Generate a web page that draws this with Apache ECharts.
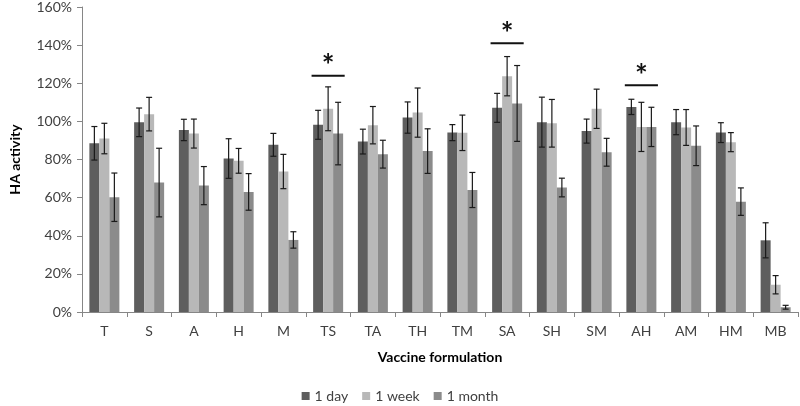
<!DOCTYPE html>
<html>
<head>
<meta charset="utf-8">
<script src="https://cdn.jsdelivr.net/npm/echarts@6/dist/echarts.min.js"></script>
<style>html,body{margin:0;padding:0;background:#fff}#c{width:800px;height:406px}</style>
</head>
<body>
<div id="c"></div>
<script>
const categories = ['T','S','A','H','M','TS','TA','TH','TM','SA','SH','SM','AH','AM','HM','MB'];
const seriesNames = ['1 day','1 week','1 month'];
const day1 = [88.5, 99.5, 95.5, 80.5, 87.7, 98.2, 89.4, 102, 94.1, 107.1, 99.6, 94.9, 107.6, 99.6, 94.1, 37.6];
const week1 = [91, 103.8, 93.6, 79.3, 73.7, 106.6, 98, 104.6, 94, 123.7, 99, 106.6, 97.1, 96.8, 89.1, 14.3];
const month1 = [60.2, 67.9, 66.3, 63, 37.8, 93.6, 82.8, 84.4, 64, 109.4, 65.3, 83.8, 97.1, 87.2, 57.9, 2.5];
const day1Err = [8.8, 7.5, 5.6, 10.4, 6, 7.6, 6.5, 8.2, 4.2, 7.6, 13.1, 6.3, 4, 6.6, 5.2, 9.2];
const week1Err = [8, 8.8, 7.6, 6.5, 9, 11.5, 9.8, 12.9, 9.3, 10.3, 12.5, 10.3, 12.9, 9.4, 5, 4.8];
const month1Err = [12.7, 18, 10, 9.6, 4.3, 16.4, 7.3, 11.7, 9.2, 19.9, 4.9, 7.3, 10.3, 10.4, 7.2, 1];
const sigCats = ['TS','SA','AH'];
const sigLevels = [124, 141, 119];
const yTicks = [0, 20, 40, 60, 80, 100, 120, 140, 160];

const colors = ['#5e5e5e', '#b8b8b8', '#8b8b8b'];
const FONT = 'Lato';
const BAR_W = 10;
const means = [day1, week1, month1];
const errs = [day1Err, week1Err, month1Err];

const chart = echarts.init(document.getElementById('c'), null, {renderer: 'canvas'});

const series = [];
means.forEach((m, k) => {
  series.push({
    name: seriesNames[k], type: 'bar', data: m, barWidth: BAR_W, barGap: '0%',
    itemStyle: {color: colors[k]}, z: 2
  });
});
means.forEach((m, k) => {
  const offset = (k - 1) * BAR_W;
  series.push({
    type: 'custom', name: 'err' + k, silent: true, z: 5,
    data: m.map((v, i) => [i, v - errs[k][i], v + errs[k][i]]),
    encode: {x: 0, y: [1, 2]},
    renderItem: function (params, api) {
      const i = api.value(0);
      const lo = api.coord([i, api.value(1)]);
      const hi = api.coord([i, api.value(2)]);
      const x = lo[0] + offset;
      const cap = 3;
      const st = {stroke: '#1a1a1a', lineWidth: 1.2};
      return {type: 'group', children: [
        {type: 'line', shape: {x1: x, y1: lo[1], x2: x, y2: hi[1]}, style: st},
        {type: 'line', shape: {x1: x - cap, y1: hi[1], x2: x + cap, y2: hi[1]}, style: st},
        {type: 'line', shape: {x1: x - cap, y1: lo[1], x2: x + cap, y2: lo[1]}, style: st}
      ]};
    }
  });
});
series.push({
  type: 'custom', name: 'sig', silent: true, z: 6,
  data: sigCats.map((c, j) => [categories.indexOf(c), sigLevels[j]]),
  encode: {x: 0, y: 1},
  renderItem: function (params, api) {
    const p = api.coord([api.value(0), api.value(1)]);
    const w = api.size([1, 0])[0] * 0.37;
    return {type: 'group', children: [
      {type: 'line', shape: {x1: p[0] - w, y1: p[1], x2: p[0] + w, y2: p[1]}, style: {stroke: '#111', lineWidth: 2}},
      {type: 'text', style: {text: '*', x: p[0], y: p[1] + 6, fill: '#111', font: 'bold 30px ' + FONT, align: 'center', verticalAlign: 'bottom'}}
    ]};
  }
});

chart.setOption({
  animation: false,
  textStyle: {fontFamily: FONT},
  grid: {left: 68, right: 2, top: 7, bottom: 94, containLabel: false},
  legend: {
    data: seriesNames, top: 384, left: 'center', itemWidth: 8, itemHeight: 8, itemGap: 14,
    icon: 'rect', textStyle: {fontFamily: FONT, fontSize: 14, color: '#404040'}
  },
  xAxis: {
    type: 'category', data: categories,
    name: 'Vaccine formulation', nameLocation: 'middle', nameGap: 38,
    nameTextStyle: {fontFamily: FONT, fontSize: 14, fontWeight: 'bold', color: '#000'},
    axisLine: {lineStyle: {color: '#868686', width: 1}},
    axisTick: {show: true, length: 5, lineStyle: {color: '#868686'}},
    axisLabel: {fontFamily: FONT, fontSize: 14, color: '#404040', margin: 12}
  },
  yAxis: {
    type: 'value', min: yTicks[0], max: yTicks[yTicks.length - 1], interval: 20,
    name: 'HA activity', nameLocation: 'middle', nameGap: 60,
    nameTextStyle: {fontFamily: FONT, fontSize: 14, fontWeight: 'bold', color: '#000'},
    axisLine: {show: true, lineStyle: {color: '#868686', width: 1}},
    axisTick: {show: true, length: 5, lineStyle: {color: '#868686'}},
    splitLine: {show: false},
    axisLabel: {fontFamily: FONT, fontSize: 14, color: '#404040', margin: 10, formatter: '{value}%'}
  },
  series: series
});
</script>
</body>
</html>
